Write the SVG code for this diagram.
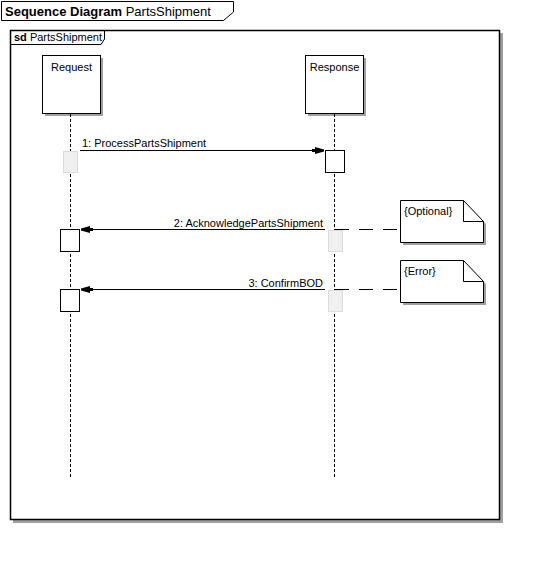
<svg xmlns="http://www.w3.org/2000/svg" width="541" height="574" viewBox="0 0 541 574">
<style>
text{font-family:"Liberation Sans",Arial,sans-serif;font-size:11px;fill:#000}
.shadow{fill:#a0a0a0;stroke:none}
.box{fill:#fff;stroke:#000;stroke-width:1}
.life{stroke:#000;stroke-width:1;stroke-dasharray:3 2;fill:none}
.msg{stroke:#000;stroke-width:1;fill:none}
.ghost{fill:#f0f0f0;stroke:#dcdcdc;stroke-width:1}
.act{fill:#fff;stroke:#000;stroke-width:1}
.anchor{stroke:#000;stroke-width:1;stroke-dasharray:14 10;fill:none}
.head{fill:#000;stroke:none}
</style>
<defs>
<marker id="arr" markerWidth="12" markerHeight="8" refX="12" refY="4" orient="auto" markerUnits="userSpaceOnUse">
<path d="M0,2.5 H3 V0.5 L12,3 V5 L3,7.5 V5.5 H0 Z" class="head"/>
</marker>
</defs>

<g id="title">
<path d="M1.5,1.5 H233.5 V12 L223.5,20.5 H1.5 Z" fill="#fff" stroke="#000"/>
<text x="5" y="16" style="font-size:13px"><tspan font-weight="bold">Sequence Diagram</tspan> PartsShipment</text>
</g>

<g id="frame">
<rect x="13" y="33" width="490" height="490" class="shadow"/>
<rect x="10.5" y="30.5" width="489" height="489" fill="#fff" stroke="#000" stroke-width="1.5"/>
<path d="M10.5,44.5 H101 L104.5,39 V30.5" fill="none" stroke="#000"/>
<text x="14" y="41"><tspan font-weight="bold">sd</tspan> PartsShipment</text>
</g>

<g id="Request">
<rect x="45" y="58" width="58" height="58" class="shadow"/>
<rect x="42.5" y="55.5" width="58" height="58" class="box"/>
<text x="71.5" y="71" text-anchor="middle">Request</text>
<line x1="70.5" y1="114" x2="70.5" y2="479" class="life"/>
<rect x="63.5" y="151.5" width="14" height="21" class="ghost"/>
<rect x="60.5" y="229.5" width="19" height="22" class="act"/>
<rect x="60.5" y="289.5" width="19" height="22" class="act"/>
</g>

<g id="Response">
<rect x="308" y="58" width="58" height="58" class="shadow"/>
<rect x="305.5" y="55.5" width="58" height="58" class="box"/>
<text x="334.5" y="71" text-anchor="middle">Response</text>
<line x1="334.5" y1="114" x2="334.5" y2="479" class="life"/>
<rect x="325.5" y="150.5" width="19" height="22" class="act"/>
<rect x="328.5" y="230.5" width="14" height="21" class="ghost"/>
<rect x="328.5" y="290.5" width="14" height="21" class="ghost"/>
</g>

<g id="NoteOptional">
<path d="M403,203 H466 L486,224 V245 H403 Z" class="shadow"/>
<path d="M400.5,200.5 H463.5 L483.5,221.5 V242.5 H400.5 Z" class="box"/>
<path d="M463.5,200.5 V221.5 H483.5" fill="none" stroke="#000"/>
<text x="404" y="215">{Optional}</text>
</g>

<g id="NoteError">
<path d="M403,263 H466 L486,284 V305 H403 Z" class="shadow"/>
<path d="M400.5,260.5 H463.5 L483.5,281.5 V302.5 H400.5 Z" class="box"/>
<path d="M463.5,260.5 V281.5 H483.5" fill="none" stroke="#000"/>
<text x="404" y="275">{Error}</text>
</g>

<g id="connectors">
<line x1="80" y1="150.5" x2="324" y2="150.5" class="msg" marker-end="url(#arr)"/>
<text x="82" y="147">1: ProcessPartsShipment</text>
<line x1="325" y1="229.5" x2="81" y2="229.5" class="msg" marker-end="url(#arr)"/>
<text x="323" y="227" text-anchor="end">2: AcknowledgePartsShipment</text>
<line x1="325" y1="289.5" x2="81" y2="289.5" class="msg" marker-end="url(#arr)"/>
<text x="323" y="287" text-anchor="end">3: ConfirmBOD</text>
<line x1="335" y1="229.5" x2="400" y2="229.5" class="anchor"/>
<line x1="335" y1="289.5" x2="400" y2="289.5" class="anchor"/>
</g>
</svg>
